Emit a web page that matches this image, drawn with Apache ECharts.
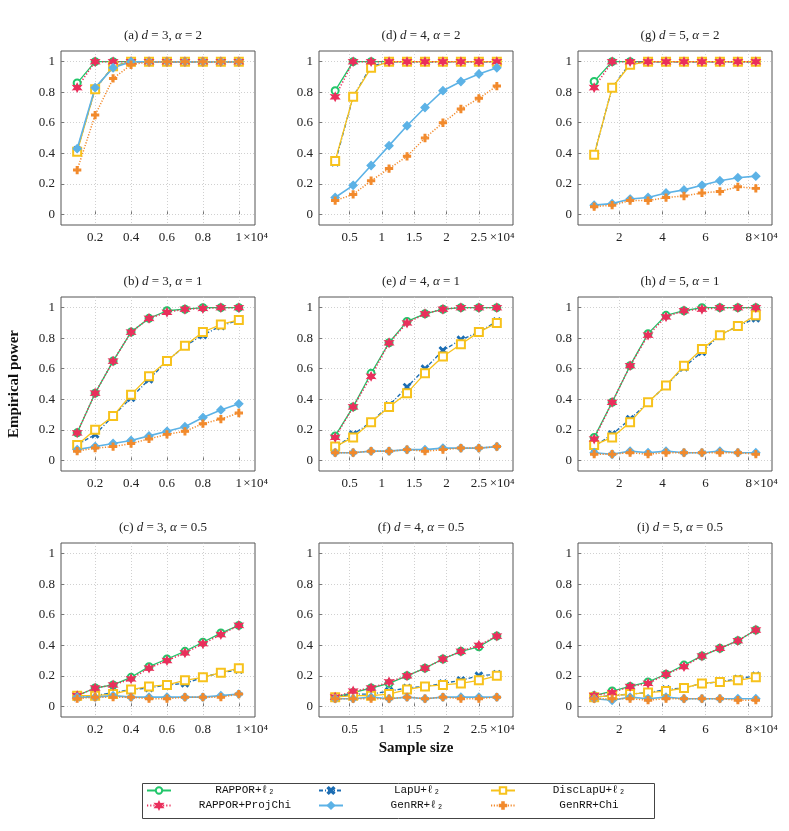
<!DOCTYPE html>
<html>
<head>
<meta charset="utf-8">
<title>Empirical power vs sample size</title>
<script src="https://cdn.jsdelivr.net/npm/echarts@6/dist/echarts.min.js"></script>
<style>
  html, body { margin: 0; padding: 0; background: #fff; }
  #chart { width: 789px; height: 831px; }
</style>
</head>
<body>
<div id="chart"></div>
<script>
// sample sizes for each dimension d
const nD3 = [1000, 2000, 3000, 4000, 5000, 6000, 7000, 8000, 9000, 10000]
const nD4 = [2778, 5556, 8333, 11111, 13889, 16667, 19444, 22222, 25000, 27778]
const nD5 = [8333, 16667, 25000, 33333, 41667, 50000, 58333, 66667, 75000, 83333]

const xTicksD3 = [2000, 4000, 6000, 8000, 10000]
const xTicksD4 = [5000, 10000, 15000, 20000, 25000]
const xTicksD5 = [20000, 40000, 60000, 80000]
const yTicks = [0, 0.2, 0.4, 0.6, 0.8, 1]

// (a) d=3, alpha=2
const rapporL2_a = [0.86, 1, 1, 1, 1, 1, 1, 1, 1, 1]
const lapU_a = [0.42, 0.82, 0.97, 1, 1, 1, 1, 1, 1, 1]
const discLapU_a = [0.41, 0.82, 0.97, 1, 1, 1, 1, 1, 1, 1]
const projChi_a = [0.83, 1, 1, 1, 1, 1, 1, 1, 1, 1]
const genRRL2_a = [0.43, 0.83, 0.96, 1, 1, 1, 1, 1, 1, 1]
const genRRChi_a = [0.29, 0.65, 0.89, 0.98, 1, 1, 1, 1, 1, 1]

// (b) d=3, alpha=1
const rapporL2_b = [0.18, 0.44, 0.65, 0.84, 0.93, 0.98, 0.99, 1, 1, 1]
const lapU_b = [0.10, 0.17, 0.29, 0.41, 0.53, 0.65, 0.75, 0.82, 0.88, 0.92]
const discLapU_b = [0.10, 0.20, 0.29, 0.43, 0.55, 0.65, 0.75, 0.84, 0.89, 0.92]
const projChi_b = [0.18, 0.44, 0.65, 0.84, 0.93, 0.97, 0.99, 0.995, 1, 1]
const genRRL2_b = [0.07, 0.09, 0.11, 0.13, 0.16, 0.19, 0.22, 0.28, 0.33, 0.37]
const genRRChi_b = [0.06, 0.08, 0.09, 0.11, 0.14, 0.17, 0.19, 0.24, 0.27, 0.31]

// (c) d=3, alpha=0.5
const rapporL2_c = [0.07, 0.12, 0.14, 0.19, 0.26, 0.31, 0.36, 0.42, 0.48, 0.53]
const lapU_c = [0.06, 0.07, 0.09, 0.11, 0.12, 0.14, 0.15, 0.19, 0.22, 0.24]
const discLapU_c = [0.07, 0.07, 0.08, 0.11, 0.13, 0.14, 0.17, 0.19, 0.22, 0.25]
const projChi_c = [0.07, 0.12, 0.14, 0.18, 0.25, 0.30, 0.35, 0.41, 0.47, 0.53]
const genRRL2_c = [0.06, 0.06, 0.07, 0.06, 0.06, 0.06, 0.06, 0.06, 0.07, 0.08]
const genRRChi_c = [0.05, 0.06, 0.06, 0.06, 0.05, 0.05, 0.06, 0.06, 0.06, 0.08]

// (d) d=4, alpha=2
const rapporL2_d = [0.81, 1, 1, 1, 1, 1, 1, 1, 1, 1]
const lapU_d = [0.34, 0.77, 0.97, 1, 1, 1, 1, 1, 1, 1]
const discLapU_d = [0.35, 0.77, 0.96, 1, 1, 1, 1, 1, 1, 1]
const projChi_d = [0.77, 1, 1, 1, 1, 1, 1, 1, 1, 1]
const genRRL2_d = [0.11, 0.19, 0.32, 0.45, 0.58, 0.70, 0.81, 0.87, 0.92, 0.96]
const genRRChi_d = [0.09, 0.13, 0.22, 0.30, 0.38, 0.50, 0.60, 0.69, 0.76, 0.84]

// (e) d=4, alpha=1
const rapporL2_e = [0.16, 0.35, 0.57, 0.77, 0.91, 0.96, 0.99, 1, 1, 1]
const lapU_e = [0.08, 0.17, 0.25, 0.36, 0.48, 0.60, 0.72, 0.79, 0.84, 0.91]
const discLapU_e = [0.09, 0.15, 0.25, 0.35, 0.44, 0.57, 0.68, 0.76, 0.84, 0.90]
const projChi_e = [0.15, 0.35, 0.55, 0.77, 0.90, 0.96, 0.99, 1, 1, 1]
const genRRL2_e = [0.05, 0.05, 0.06, 0.06, 0.07, 0.07, 0.08, 0.08, 0.08, 0.09]
const genRRChi_e = [0.05, 0.05, 0.06, 0.06, 0.07, 0.06, 0.07, 0.08, 0.08, 0.09]

// (f) d=4, alpha=0.5
const rapporL2_f = [0.06, 0.09, 0.12, 0.15, 0.20, 0.25, 0.31, 0.36, 0.39, 0.46]
const lapU_f = [0.06, 0.08, 0.08, 0.10, 0.12, 0.13, 0.15, 0.17, 0.20, 0.21]
const discLapU_f = [0.06, 0.07, 0.07, 0.08, 0.11, 0.13, 0.14, 0.15, 0.17, 0.20]
const projChi_f = [0.06, 0.10, 0.12, 0.16, 0.20, 0.25, 0.31, 0.36, 0.40, 0.46]
const genRRL2_f = [0.05, 0.05, 0.06, 0.05, 0.06, 0.05, 0.06, 0.06, 0.06, 0.06]
const genRRChi_f = [0.05, 0.05, 0.05, 0.05, 0.06, 0.05, 0.06, 0.05, 0.05, 0.06]

// (g) d=5, alpha=2
const rapporL2_g = [0.87, 1, 1, 1, 1, 1, 1, 1, 1, 1]
const lapU_g = [0.39, 0.83, 0.99, 1, 1, 1, 1, 1, 1, 1]
const discLapU_g = [0.39, 0.83, 0.98, 1, 1, 1, 1, 1, 1, 1]
const projChi_g = [0.83, 1, 1, 1, 1, 1, 1, 1, 1, 1]
const genRRL2_g = [0.06, 0.07, 0.10, 0.11, 0.14, 0.16, 0.19, 0.22, 0.24, 0.25]
const genRRChi_g = [0.05, 0.06, 0.09, 0.09, 0.11, 0.12, 0.14, 0.15, 0.18, 0.17]

// (h) d=5, alpha=1
const rapporL2_h = [0.15, 0.38, 0.62, 0.83, 0.95, 0.98, 1, 1, 1, 1]
const lapU_h = [0.09, 0.17, 0.27, 0.38, 0.49, 0.61, 0.71, 0.82, 0.88, 0.93]
const discLapU_h = [0.10, 0.15, 0.25, 0.38, 0.49, 0.62, 0.73, 0.82, 0.88, 0.95]
const projChi_h = [0.14, 0.38, 0.62, 0.82, 0.94, 0.98, 0.99, 1, 1, 1]
const genRRL2_h = [0.05, 0.04, 0.06, 0.05, 0.06, 0.05, 0.05, 0.06, 0.05, 0.05]
const genRRChi_h = [0.04, 0.04, 0.05, 0.04, 0.05, 0.05, 0.05, 0.05, 0.05, 0.04]

// (i) d=5, alpha=0.5
const rapporL2_i = [0.07, 0.10, 0.13, 0.16, 0.21, 0.27, 0.33, 0.38, 0.43, 0.50]
const lapU_i = [0.06, 0.07, 0.08, 0.09, 0.11, 0.12, 0.15, 0.16, 0.18, 0.20]
const discLapU_i = [0.06, 0.07, 0.08, 0.09, 0.10, 0.12, 0.15, 0.16, 0.17, 0.19]
const projChi_i = [0.07, 0.09, 0.13, 0.15, 0.21, 0.26, 0.33, 0.38, 0.43, 0.50]
const genRRL2_i = [0.05, 0.04, 0.06, 0.05, 0.06, 0.05, 0.05, 0.05, 0.05, 0.05]
const genRRChi_i = [0.05, 0.05, 0.05, 0.04, 0.05, 0.05, 0.05, 0.05, 0.04, 0.04]

// legend order (3 per row): RAPPOR+l2, LapU, DiscLapU / ProjChi, GenRR+l2, GenRR+Chi
const methods = ['RAPPOR+ℓ₂', 'LapU+ℓ₂', 'DiscLapU+ℓ₂', 'RAPPOR+ProjChi', 'GenRR+ℓ₂', 'GenRR+Chi']

const panels = [
  { tag: 'a', d: 3, alpha: '2', row: 0, col: 0, n: nD3, ticks: xTicksD3, values: [rapporL2_a, lapU_a, discLapU_a, projChi_a, genRRL2_a, genRRChi_a] },
  { tag: 'b', d: 3, alpha: '1', row: 1, col: 0, n: nD3, ticks: xTicksD3, values: [rapporL2_b, lapU_b, discLapU_b, projChi_b, genRRL2_b, genRRChi_b] },
  { tag: 'c', d: 3, alpha: '0.5', row: 2, col: 0, n: nD3, ticks: xTicksD3, values: [rapporL2_c, lapU_c, discLapU_c, projChi_c, genRRL2_c, genRRChi_c] },
  { tag: 'd', d: 4, alpha: '2', row: 0, col: 1, n: nD4, ticks: xTicksD4, values: [rapporL2_d, lapU_d, discLapU_d, projChi_d, genRRL2_d, genRRChi_d] },
  { tag: 'e', d: 4, alpha: '1', row: 1, col: 1, n: nD4, ticks: xTicksD4, values: [rapporL2_e, lapU_e, discLapU_e, projChi_e, genRRL2_e, genRRChi_e] },
  { tag: 'f', d: 4, alpha: '0.5', row: 2, col: 1, n: nD4, ticks: xTicksD4, values: [rapporL2_f, lapU_f, discLapU_f, projChi_f, genRRL2_f, genRRChi_f] },
  { tag: 'g', d: 5, alpha: '2', row: 0, col: 2, n: nD5, ticks: xTicksD5, values: [rapporL2_g, lapU_g, discLapU_g, projChi_g, genRRL2_g, genRRChi_g] },
  { tag: 'h', d: 5, alpha: '1', row: 1, col: 2, n: nD5, ticks: xTicksD5, values: [rapporL2_h, lapU_h, discLapU_h, projChi_h, genRRL2_h, genRRChi_h] },
  { tag: 'i', d: 5, alpha: '0.5', row: 2, col: 2, n: nD5, ticks: xTicksD5, values: [rapporL2_i, lapU_i, discLapU_i, projChi_i, genRRL2_i, genRRChi_i] }
]

const FONT = "'Liberation Serif', 'DejaVu Serif', serif"
const MONO = "'Liberation Mono', 'DejaVu Sans Mono', monospace"
const colLeft = [61, 319, 578]
const rowTop = [51, 297, 543]
const boxW = 194
const boxH = 174

// six-pointed star for the ProjChi marker
function starPath() {
  const pts = []
  for (let k = 0; k < 12; k++) {
    const r = k % 2 === 0 ? 10 : 5
    const a = Math.PI / 2 + k * Math.PI / 6
    pts.push((10 + r * Math.cos(a)).toFixed(2) + ',' + (10 - r * Math.sin(a)).toFixed(2))
  }
  return 'path://M' + pts.join(' L') + ' Z'
}
const crossPath = 'path://M0,1.5 L1.5,0 L5,3.5 L8.5,0 L10,1.5 L6.5,5 L10,8.5 L8.5,10 L5,6.5 L1.5,10 L0,8.5 L3.5,5 Z'
const plusPath = 'path://M3.8,0 H6.2 V3.8 H10 V6.2 H6.2 V10 H3.8 V6.2 H0 V3.8 H3.8 Z'

const methodStyles = [
  { color: '#22c66a', symbol: 'emptyCircle', size: 7, line: 'solid', width: 1.3 },
  { color: '#1c6db3', symbol: crossPath, size: 7, line: [4, 2, 1, 2], width: 1.4 },
  { color: '#f7c21c', symbol: 'emptyRect', size: 8, line: 'solid', width: 1.3 },
  { color: '#ea2f5c', symbol: starPath(), size: 8, line: [1.2, 2], width: 1.6 },
  { color: '#5cb2e6', symbol: 'diamond', size: 8, line: 'solid', width: 1.6 },
  { color: '#f28a2c', symbol: plusPath, size: 7, line: [1.2, 1.6], width: 1.5 }
]

function fmtX(v) {
  return String(Number((v / 1e4).toFixed(2)))
}

const grids = []
const xAxes = []
const yAxes = []
const titles = []
const series = []
const scaleLabels = []

panels.forEach((p, i) => {
  const left = colLeft[p.col]
  const top = rowTop[p.row]
  const span = p.n[p.n.length - 1] - p.n[0]
  const xMin = p.n[0] - 0.1 * span
  const xMax = p.n[p.n.length - 1] + 0.1 * span

  grids.push({
    left: left, top: top, width: boxW, height: boxH,
    show: true, borderColor: '#555', borderWidth: 1, backgroundColor: 'transparent'
  })

  xAxes.push({
    type: 'value', gridIndex: i, min: xMin, max: xMax,
    axisLine: { show: false },
    axisTick: { show: true, inside: true, length: 3, customValues: p.ticks, lineStyle: { color: '#777' } },
    axisLabel: { customValues: p.ticks, formatter: fmtX, fontFamily: FONT, fontSize: 13, color: '#222', margin: 6 },
    splitLine: { show: true, lineStyle: { type: [1, 2], color: '#c4c4c4', width: 0.8 } }
  })

  yAxes.push({
    type: 'value', gridIndex: i, min: -0.07, max: 1.07,
    axisLine: { show: false },
    axisTick: { show: true, inside: true, length: 3, customValues: yTicks, lineStyle: { color: '#777' } },
    axisLabel: { customValues: yTicks, formatter: v => String(Number(v.toFixed(1))), fontFamily: FONT, fontSize: 13, color: '#222', margin: 6 },
    splitLine: { show: true, lineStyle: { type: [1, 2], color: '#c4c4c4', width: 0.8 } }
  })

  titles.push({
    text: '(' + p.tag + ') {i|d} = ' + p.d + ', {i|α} = ' + p.alpha,
    left: left + boxW / 2, top: top - 27, textAlign: 'center',
    textStyle: {
      fontFamily: FONT, fontSize: 13, fontWeight: 'normal', color: '#222',
      rich: { i: { fontFamily: FONT, fontSize: 13, fontStyle: 'italic', color: '#222' } }
    }
  })

  // the x10^4 factor sits right after the last tick label
  const lastTick = p.ticks[p.ticks.length - 1]
  const lastPx = (lastTick - xMin) / (xMax - xMin) * boxW
  scaleLabels.push({
    type: 'text', silent: true,
    x: left + lastPx + fmtX(lastTick).length * 3.3 + 1,
    y: top + boxH + 13,
    style: { text: '×10⁴', font: '13px ' + FONT, fill: '#222', align: 'left', verticalAlign: 'middle' }
  })

  p.values.forEach((vals, m) => {
    const st = methodStyles[m]
    series.push({
      name: methods[m], type: 'line', xAxisIndex: i, yAxisIndex: i,
      data: p.n.map((x, k) => [x, vals[k]]),
      symbol: st.symbol, symbolSize: st.size, showAllSymbol: true,
      lineStyle: { color: st.color, width: st.width, type: st.line },
      itemStyle: { color: st.color, borderColor: st.color, borderWidth: 1.3 },
      emphasis: { disabled: true }
    })
  })
})

// one legend per entry so the three columns line up like the original
const legendBox = { left: 140, top: 781, width: 512, height: 35 }
const legends = methods.map((name, j) => ({
  data: [name],
  left: 146 + (j % 3) * 172,
  top: 785 + Math.floor(j / 3) * 15,
  padding: 0,
  itemWidth: 24, itemHeight: 8, itemTextGap: 4,
  selectedMode: false,
  formatter: nm => '{t|' + nm + '}',
  textStyle: {
    fontFamily: MONO, fontSize: 11, color: '#111',
    rich: { t: { width: 138, align: 'center', fontFamily: MONO, fontSize: 11 } }
  }
}))

const chart = echarts.init(document.getElementById('chart'), null, { renderer: 'canvas' })
chart.setOption({
  animation: false,
  backgroundColor: '#fff',
  title: titles,
  grid: grids,
  xAxis: xAxes,
  yAxis: yAxes,
  series: series,
  legend: legends,
  graphic: scaleLabels.concat([
    {
      type: 'rect', left: legendBox.left, top: legendBox.top, silent: true,
      shape: { width: legendBox.width, height: legendBox.height },
      style: { fill: 'none', stroke: '#444', lineWidth: 1 }
    },
    {
      type: 'text', x: 14, y: rowTop[1] + boxH / 2, rotation: Math.PI / 2,
      style: { text: 'Empirical power', font: 'bold 15px ' + FONT, fill: '#111', align: 'center', verticalAlign: 'middle' }
    },
    {
      type: 'text', x: colLeft[1] + boxW / 2, y: 748,
      style: { text: 'Sample size', font: 'bold 15px ' + FONT, fill: '#111', align: 'center', verticalAlign: 'middle' }
    }
  ])
})
</script>
</body>
</html>
